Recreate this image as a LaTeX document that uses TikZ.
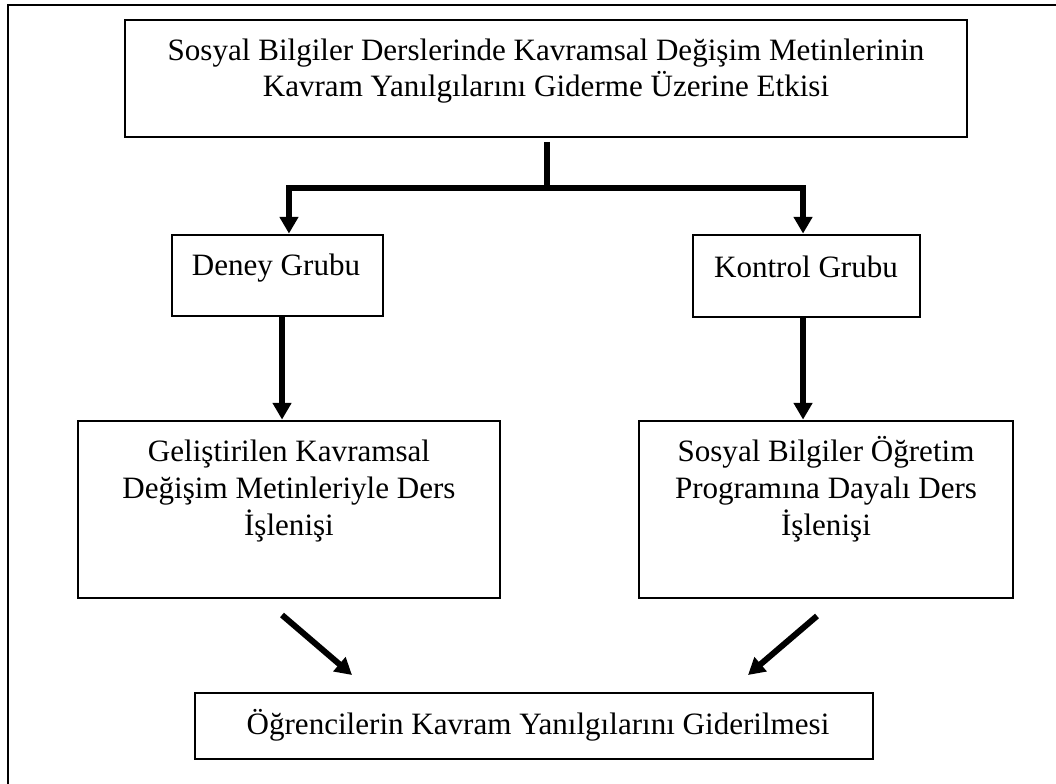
\documentclass[tikz,border=0pt]{standalone}
\usepackage{fontspec}
\setmainfont{Liberation Serif}
\usetikzlibrary{arrows.meta}

\begin{document}
\begin{tikzpicture}[x=0.75pt,y=-0.75pt,
  kutu/.style 2 args={draw, line width=2.1pt, inner sep=0pt, minimum width=#1*0.75pt, minimum height=#2*0.75pt},
  yazi/.style={align=center, anchor=base, inner sep=0pt, font=\fontsize{23.3}{27.4}\selectfont},
  ok/.style={line width=4.5pt, -{Triangle[width=13.5pt,length=12.5pt]}}]
\useasboundingbox (0,0) rectangle (1056,784);
% dis cerceve
\draw[line width=2.1pt] (1080,5) -- (8,5) -- (8,800);
% kutular
\node[kutu={842}{117}] (ust) at (546,78.5) {};
\node[kutu={211}{81}] (deney) at (277.5,275.5) {};
\node[kutu={227}{82}] (kontrol) at (806.5,276) {};
\node[kutu={422}{177}] (gelistir) at (289,509.5) {};
\node[kutu={374}{177}] (ogretim) at (826,509.5) {};
\node[kutu={678}{66}] (sonuc) at (534,726) {};
% yazilar (base = son satir)
\node[yazi] (ustyazi) at (546,97) {Sosyal Bilgiler Derslerinde Kavramsal Değişim Metinlerinin\\Kavram Yanılgılarını Giderme Üzerine Etkisi};
\node[yazi] (deneyyazi) at (276,276) {Deney Grubu};
\node[yazi] (kontrolyazi) at (806,277) {Kontrol Grubu};
\node[yazi] (gelistiryazi) at (289,535) {Geliştirilen Kavramsal\\Değişim Metinleriyle Ders\\İşlenişi};
\node[yazi] (ogretimyazi) at (826,535) {Sosyal Bilgiler Öğretim\\Programına Dayalı Ders\\İşlenişi};
\node[yazi] (sonucyazi) at (538,734) {Öğrencilerin Kavram Yanılgılarını Giderilmesi};
% oklar
\coordinate (govde) at (546.5,142);
\coordinate (kol) at (546.5,188);
\draw[line width=4.5pt] (govde) -- (kol);
\draw[ok] (kol) -| ([xshift=8.6pt]deney.north);
\draw[ok] (kol) -| ([xshift=-2.6pt]kontrol.north);
\draw[ok] ([xshift=3.4pt]deney.south) -- ([xshift=3.4pt]deney.south |- gelistir.north);
\draw[ok] ([xshift=-2.6pt]kontrol.south) -- ([xshift=-2.6pt]kontrol.south |- ogretim.north);
\coordinate (sol1) at (282,615);
\coordinate (sol2) at (352,675);
\coordinate (sag1) at (817,616);
\coordinate (sag2) at (748,675);
\draw[ok] (sol1) -- (sol2);
\draw[ok] (sag1) -- (sag2);
\end{tikzpicture}
\end{document}
